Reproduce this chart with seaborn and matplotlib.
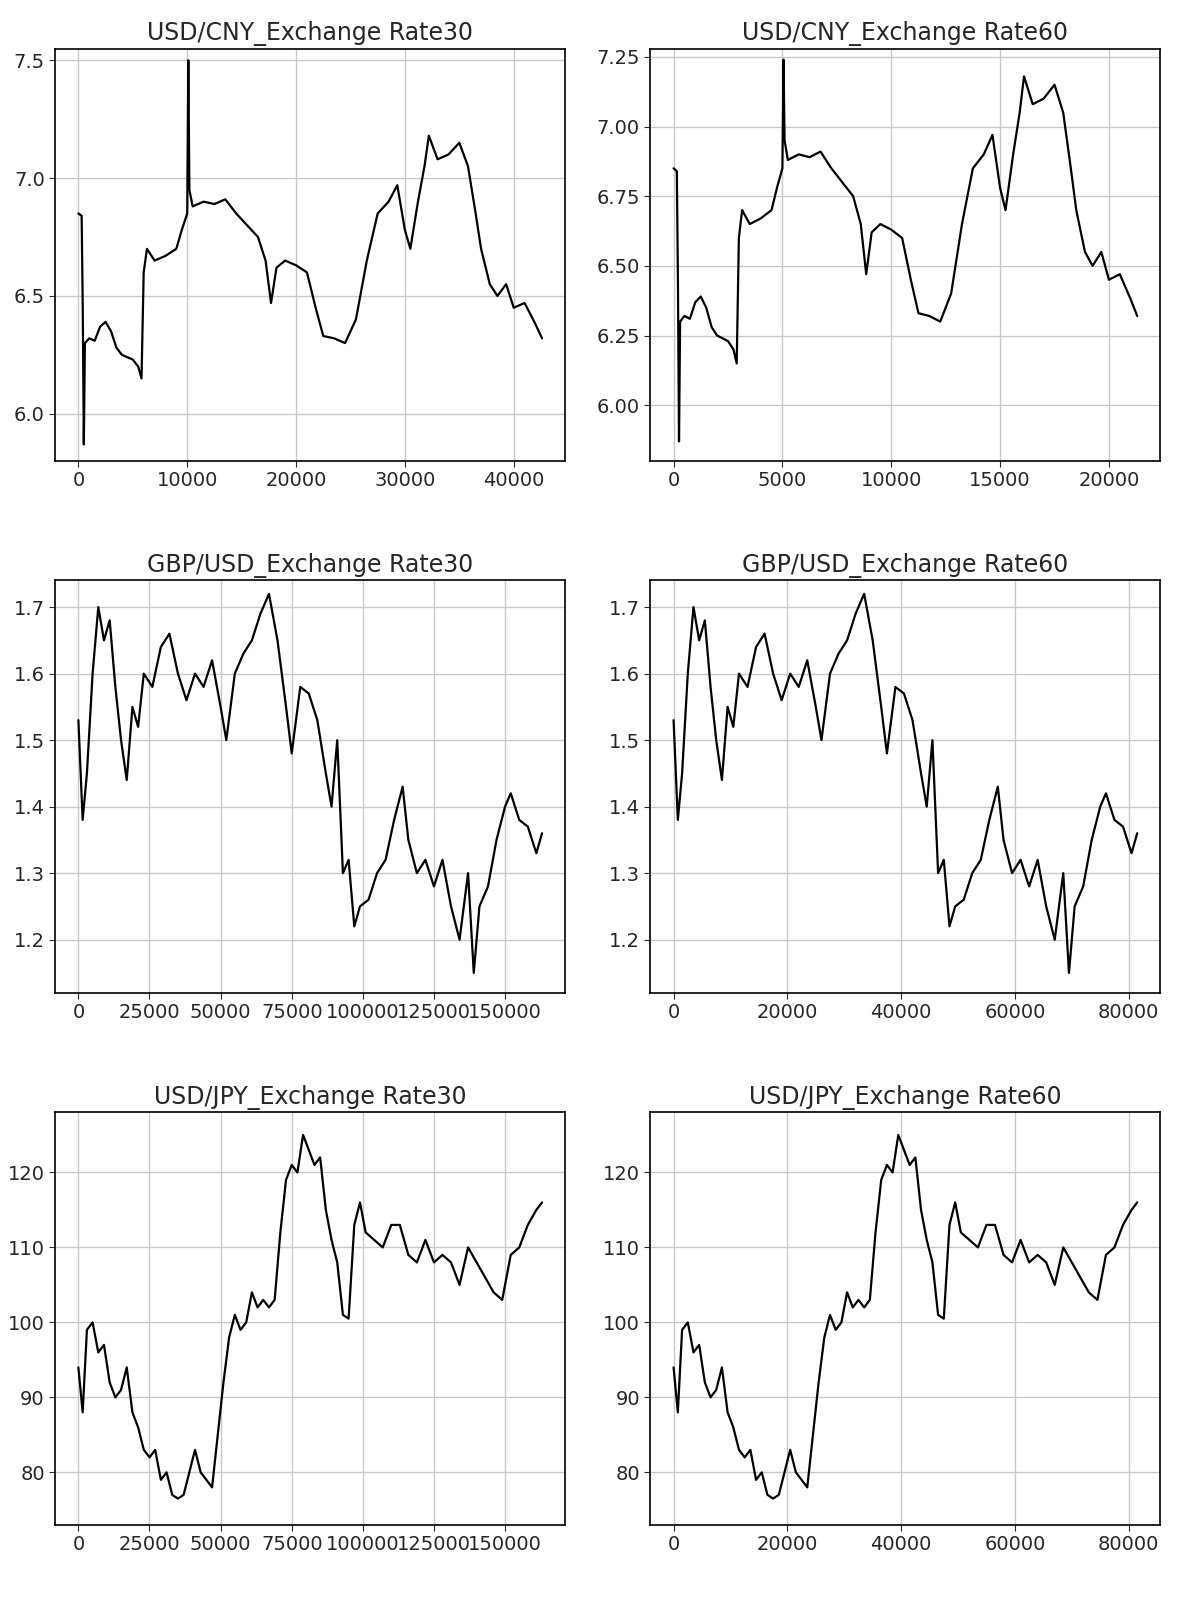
import matplotlib
matplotlib.use("Agg")
import matplotlib.pyplot as plt
import seaborn as sns

sns.set_style("whitegrid")
plt.rcParams["font.family"] = ["DejaVu Sans"]

# waypoints (index, rate)
cny_x30 = [0, 300, 400, 500, 600, 1000, 1500, 2000, 2500, 3000, 3500, 4000, 4500, 5000, 5500, 5800,
           6000, 6300, 7000, 8000, 9000, 9500, 10000, 10100, 10200, 10500, 11500, 12500, 13500, 14500,
           15500, 16500, 17200, 17700, 18200, 19000, 20000, 21000, 21800, 22500, 23500, 24500, 25500,
           26500, 27500, 28500, 29300, 30000, 30500, 31200, 31800, 32200, 33000, 34000, 35000, 35800,
           36500, 37000, 37800, 38500, 39300, 40000, 41000, 42000, 42600]
cny_x60 = [0, 150, 200, 250, 300, 500, 750, 1000, 1250, 1500, 1750, 2000, 2250, 2500, 2750, 2900,
           3000, 3150, 3500, 4000, 4500, 4750, 5000, 5050, 5100, 5250, 5750, 6250, 6750, 7250,
           7750, 8250, 8600, 8850, 9100, 9500, 10000, 10500, 10900, 11250, 11750, 12250, 12750,
           13250, 13750, 14250, 14650, 15000, 15250, 15600, 15900, 16100, 16500, 17000, 17500, 17900,
           18250, 18500, 18900, 19250, 19650, 20000, 20500, 21000, 21300]
cny_y = [6.85, 6.84, 6.45, 5.87, 6.30, 6.32, 6.31, 6.37, 6.39, 6.35, 6.28, 6.25, 6.24, 6.23, 6.20, 6.15,
         6.60, 6.70, 6.65, 6.67, 6.70, 6.78, 6.85, 7.50, 6.95, 6.88, 6.90, 6.89, 6.91, 6.85,
         6.80, 6.75, 6.65, 6.47, 6.62, 6.65, 6.63, 6.60, 6.45, 6.33, 6.32, 6.30, 6.40,
         6.65, 6.85, 6.90, 6.97, 6.78, 6.70, 6.90, 7.05, 7.18, 7.08, 7.10, 7.15, 7.05,
         6.85, 6.70, 6.55, 6.50, 6.55, 6.45, 6.47, 6.38, 6.32]
cny_y60 = [min(v, 7.24) for v in cny_y]

gbp_x30 = [0, 1500, 3000, 5000, 7000, 9000, 11000, 13000, 15000, 17000, 19000, 21000, 23000, 26000,
           29000, 32000, 35000, 38000, 41000, 44000, 47000, 50000, 52000, 55000, 58000, 61000, 64000,
           67000, 70000, 73000, 75000, 78000, 81000, 84000, 87000, 89000, 91000, 93000, 95000, 97000,
           99000, 102000, 105000, 108000, 111000, 114000, 116000, 119000, 122000, 125000, 128000,
           131000, 134000, 137000, 139000, 141000, 144000, 147000, 150000, 152000, 155000, 158000,
           161000, 163000]
gbp_x60 = [0, 750, 1500, 2500, 3500, 4500, 5500, 6500, 7500, 8500, 9500, 10500, 11500, 13000,
           14500, 16000, 17500, 19000, 20500, 22000, 23500, 25000, 26000, 27500, 29000, 30500, 32000,
           33500, 35000, 36500, 37500, 39000, 40500, 42000, 43500, 44500, 45500, 46500, 47500, 48500,
           49500, 51000, 52500, 54000, 55500, 57000, 58000, 59500, 61000, 62500, 64000,
           65500, 67000, 68500, 69500, 70500, 72000, 73500, 75000, 76000, 77500, 79000,
           80500, 81500]
gbp_y = [1.53, 1.38, 1.45, 1.60, 1.70, 1.65, 1.68, 1.58, 1.50, 1.44, 1.55, 1.52, 1.60, 1.58,
         1.64, 1.66, 1.60, 1.56, 1.60, 1.58, 1.62, 1.55, 1.50, 1.60, 1.63, 1.65, 1.69,
         1.72, 1.65, 1.55, 1.48, 1.58, 1.57, 1.53, 1.45, 1.40, 1.50, 1.30, 1.32, 1.22,
         1.25, 1.26, 1.30, 1.32, 1.38, 1.43, 1.35, 1.30, 1.32, 1.28, 1.32,
         1.25, 1.20, 1.30, 1.15, 1.25, 1.28, 1.35, 1.40, 1.42, 1.38, 1.37,
         1.33, 1.36]

jpy_x30 = [0, 1500, 3000, 5000, 7000, 9000, 11000, 13000, 15000, 17000, 19000, 21000, 23000, 25000,
           27000, 29000, 31000, 33000, 35000, 37000, 39000, 41000, 43000, 45000, 47000, 49000, 51000,
           53000, 55000, 57000, 59000, 61000, 63000, 65000, 67000, 69000, 71000, 73000, 75000, 77000,
           79000, 81000, 83000, 85000, 87000, 89000, 91000, 93000, 95000, 97000, 99000, 101000,
           104000, 107000, 110000, 113000, 116000, 119000, 122000, 125000, 128000, 131000, 134000,
           137000, 140000, 143000, 146000, 149000, 152000, 155000, 158000, 161000, 163000]
jpy_x60 = [0, 750, 1500, 2500, 3500, 4500, 5500, 6500, 7500, 8500, 9500, 10500, 11500, 12500,
           13500, 14500, 15500, 16500, 17500, 18500, 19500, 20500, 21500, 22500, 23500, 24500, 25500,
           26500, 27500, 28500, 29500, 30500, 31500, 32500, 33500, 34500, 35500, 36500, 37500, 38500,
           39500, 40500, 41500, 42500, 43500, 44500, 45500, 46500, 47500, 48500, 49500, 50500,
           52000, 53500, 55000, 56500, 58000, 59500, 61000, 62500, 64000, 65500, 67000,
           68500, 70000, 71500, 73000, 74500, 76000, 77500, 79000, 80500, 81500]
jpy_y = [94, 88, 99, 100, 96, 97, 92, 90, 91, 94, 88, 86, 83, 82,
         83, 79, 80, 77, 76.5, 77, 80, 83, 80, 79, 78, 85, 92,
         98, 101, 99, 100, 104, 102, 103, 102, 103, 112, 119, 121, 120,
         125, 123, 121, 122, 115, 111, 108, 101, 100.5, 113, 116, 112,
         111, 110, 113, 113, 109, 108, 111, 108, 109, 108, 105,
         110, 108, 106, 104, 103, 109, 110, 113, 115, 116]

panels = [
    ("USD/CNY_Exchange Rate30", cny_x30, cny_y, [6.0, 6.5, 7.0, 7.5], (5.8, 7.55)),
    ("USD/CNY_Exchange Rate60", cny_x60, cny_y60, [6.0, 6.25, 6.5, 6.75, 7.0, 7.25], (5.8, 7.28)),
    ("GBP/USD_Exchange Rate30", gbp_x30, gbp_y, [1.2, 1.3, 1.4, 1.5, 1.6, 1.7], (1.12, 1.74)),
    ("GBP/USD_Exchange Rate60", gbp_x60, gbp_y, [1.2, 1.3, 1.4, 1.5, 1.6, 1.7], (1.12, 1.74)),
    ("USD/JPY_Exchange Rate30", jpy_x30, jpy_y, [80, 90, 100, 110, 120], (73, 128)),
    ("USD/JPY_Exchange Rate60", jpy_x60, jpy_y, [80, 90, 100, 110, 120], (73, 128)),
]

fig, axes = plt.subplots(3, 2, figsize=(12, 16.17), dpi=100)
for ax, (title, xs, ys, yt, yl) in zip(axes.flat, panels):
    sns.lineplot(x=xs, y=ys, ax=ax, color="black", linewidth=1.6)
    ax.set_title(title, fontsize=17)
    ax.set_yticks(yt)
    ax.set_ylim(*yl)
    ax.tick_params(labelsize=14, length=4, left=True, bottom=True)
    ax.grid(True, color="#c8c8c8", linewidth=1)
    for s in ax.spines.values():
        s.set_color("black")
        s.set_linewidth(1.2)
    xmax = max(xs)
    ax.set_xlim(-0.05 * xmax, 1.05 * xmax)

plt.subplots_adjust(left=0.046, right=0.967, top=0.970, bottom=0.057, hspace=0.29, wspace=0.167)
fig.savefig("out.png")
